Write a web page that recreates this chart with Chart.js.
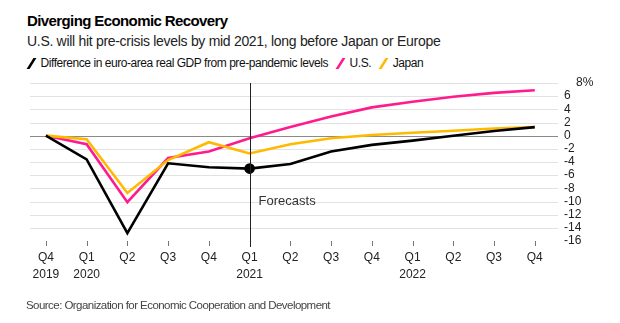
<!DOCTYPE html>
<html>
<head>
<meta charset="utf-8">
<script src="https://cdn.jsdelivr.net/npm/chart.js@4"></script>
<style>
  html, body { margin: 0; padding: 0; background: #fff; }
  body { width: 620px; height: 323px; position: relative; overflow: hidden; font-family: "Liberation Sans", Arial, sans-serif; color: #000; }
  #chart { position: absolute; left: 0; top: 0; }
  .head { position: absolute; left: 27px; white-space: nowrap; }
  #title { top: 12px; font-size: 15px; font-weight: bold; letter-spacing: -0.6px; }
  #subtitle { top: 33px; font-size: 14px; color: #222; letter-spacing: -0.3px; }
  #legend { top: 56px; font-size: 12px; color: #111; letter-spacing: -0.45px; display: flex; align-items: center; }
  .key { display: inline-block; width: 2.6px; height: 11px; transform: skewX(-32deg); margin: 0 8px 0 3px; }
  .gap { margin-right: 8px; }
  #source { position: absolute; left: 26px; top: 299px; font-size: 11.5px; color: #444; letter-spacing: -0.55px; white-space: nowrap; }
</style>
</head>
<body>
<div id="title" class="head">Diverging Economic Recovery</div>
<div id="subtitle" class="head">U.S. will hit pre-crisis levels by mid 2021, long before Japan or Europe</div>
<div id="legend" class="head">
  <span class="key" style="background:#000"></span><span class="gap">Difference in euro-area real GDP from pre-pandemic levels</span>
  <span class="key" style="background:#ff1b8d"></span><span class="gap">U.S.</span>
  <span class="key" style="background:#ffb900"></span><span>Japan</span>
</div>
<canvas id="chart" width="620" height="323"></canvas>
<div id="source">Source: Organization for Economic Cooperation and Development</div>

<script>
// quarters on the x axis, second line holds the year
var quarters = ["Q4", "Q1", "Q2", "Q3", "Q4", "Q1", "Q2", "Q3", "Q4", "Q1", "Q2", "Q3", "Q4"];
var years = ["2019", "2020", "", "", "", "2021", "", "", "", "2022", "", "", ""];

// % difference in real GDP from pre-pandemic level
var euroArea = [0, -3.6, -14.8, -4.2, -4.8, -5.0, -4.3, -2.4, -1.4, -0.75, 0, 0.7, 1.3];
var us = [0, -1.3, -10.1, -3.4, -2.4, -0.4, 1.3, 2.9, 4.3, 5.15, 5.9, 6.5, 6.9];
var japan = [0, -0.55, -8.7, -3.7, -1.0, -2.7, -1.3, -0.4, 0.1, 0.45, 0.75, 1.1, 1.3];

var forecastStart = 5; // Q1 2021

function toPoints(arr) {
  return arr.map(function (v, i) { return { x: i, y: v }; });
}

// horizontal rules (darker at zero) and small tick marks under each quarter
var rules = {
  id: 'rules',
  beforeDatasetsDraw: function (chart) {
    var ctx = chart.ctx;
    var area = chart.chartArea;
    var xs = chart.scales.x, ys = chart.scales.y;
    ctx.save();
    ctx.lineWidth = 1;
    ys.ticks.forEach(function (t) {
      if (t.value === -16) return;
      var y = Math.round(ys.getPixelForValue(t.value)) + 0.5;
      ctx.strokeStyle = t.value === 0 ? '#8a8a8a' : '#e2e2e2';
      ctx.beginPath();
      ctx.moveTo(area.left, y);
      ctx.lineTo(area.right, y);
      ctx.stroke();
    });
    ctx.strokeStyle = '#777';
    quarters.forEach(function (q, i) {
      var x = Math.round(xs.getPixelForValue(i)) + 0.5;
      ctx.beginPath();
      ctx.moveTo(x, area.bottom);
      ctx.lineTo(x, area.bottom + 5);
      ctx.stroke();
    });
    ctx.restore();
  }
};

// vertical line where forecasts begin, plus its label
var forecastMarker = {
  id: 'forecastMarker',
  afterDatasetsDraw: function (chart) {
    var ctx = chart.ctx;
    var x = chart.scales.x.getPixelForValue(forecastStart);
    var area = chart.chartArea;
    ctx.save();
    ctx.strokeStyle = '#222';
    ctx.lineWidth = 1;
    ctx.beginPath();
    ctx.moveTo(Math.round(x) + 0.5, area.top);
    ctx.lineTo(Math.round(x) + 0.5, area.bottom + 6);
    ctx.stroke();
    ctx.fillStyle = '#333';
    ctx.font = '13px "Liberation Sans", Arial, sans-serif';
    ctx.textBaseline = 'middle';
    ctx.fillText('Forecasts', x + 9, chart.scales.y.getPixelForValue(-10));
    ctx.restore();
  }
};

var ctx = document.getElementById("chart");

var myChart = new Chart(ctx, {
  type: 'line',
  data: {
    datasets: [
      {
        label: 'Difference in euro-area real GDP from pre-pandemic levels',
        data: toPoints(euroArea),
        borderColor: '#000',
        backgroundColor: '#000',
        borderWidth: 2.6,
        pointRadius: euroArea.map(function (v, i) { return i === forecastStart ? 4 : 0; }),
        pointHoverRadius: 0
      },
      {
        label: 'Japan',
        data: toPoints(japan),
        borderColor: '#ffb900',
        borderWidth: 2.6,
        pointRadius: 0
      },
      {
        label: 'U.S.',
        data: toPoints(us),
        borderColor: '#ff1b8d',
        borderWidth: 2.6,
        pointRadius: 0
      }
    ]
  },
  options: {
    responsive: false,
    animation: false,
    devicePixelRatio: 1,
    layout: { padding: { left: 30, top: 83, right: 0, bottom: 36 } },
    plugins: {
      legend: { display: false },
      tooltip: { enabled: false }
    },
    scales: {
      x: {
        type: 'linear',
        min: -0.39,
        max: 12.57,
        afterFit: function (scale) { scale.height = 46; },
        border: { display: false },
        grid: { display: false, drawTicks: false },
        ticks: {
          stepSize: 1,
          includeBounds: false,
          autoSkip: false,
          maxRotation: 0,
          padding: 8,
          color: '#222',
          font: { family: '"Liberation Sans", Arial, sans-serif', size: 12, lineHeight: 1.4 },
          callback: function (value) {
            var i = Math.round(value);
            if (i < 0 || i > 12) return null;
            return [quarters[i], years[i]];
          }
        }
      },
      y: {
        position: 'right',
        min: -16,
        max: 8,
        afterFit: function (scale) { scale.width = 62; },
        border: { display: false },
        grid: { display: false, drawTicks: false },
        ticks: {
          stepSize: 2,
          autoSkip: false,
          padding: 6,
          color: '#222',
          font: { family: '"Liberation Sans", Arial, sans-serif', size: 12 },
          callback: function (value) {
            return value === 8 ? '\u2002\u20028%' : String(value);
          }
        }
      }
    }
  },
  plugins: [rules, forecastMarker]
});
</script>
</body>
</html>
